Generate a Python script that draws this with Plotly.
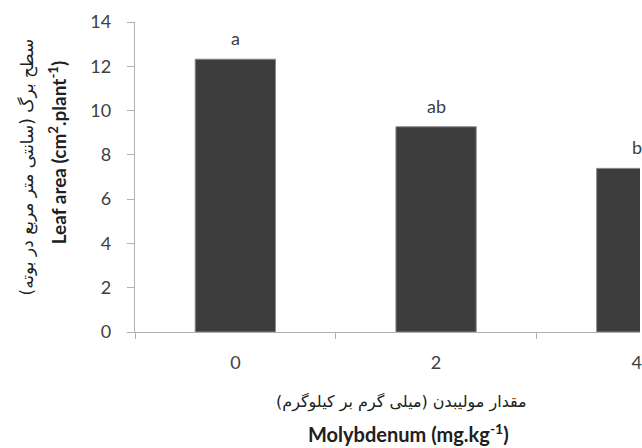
import plotly.graph_objects as go

categories = ["0", "2", "4"]
leaf_area = [12.32, 9.27, 7.39]
letters = ["a", "ab", "b"]
y_ticks = [0, 2, 4, 6, 8, 10, 12, 14]

W, H = 642, 448
L, T, PB = 135, 22, 332   # plot area left, top, bottom in page pixels
PW, PH = W - L, PB - T

fig = go.Figure()
fig.add_trace(go.Bar(
    x=categories, y=leaf_area, width=0.4,
    marker=dict(color="#3d3d3d", line=dict(color="#8a8a8a", width=1)),
    showlegend=False, hoverinfo="skip",
))

for i, (v, t) in enumerate(zip(leaf_area, letters)):
    fig.add_annotation(x=i, y=v, text=t, showarrow=False, yshift=21,
                       xanchor="center", yanchor="middle",
                       font=dict(family="Lato", size=18, color="#404040"))

def px(x):
    return (x - L) / PW

def py(y):
    return (PB - y) / PH

common = dict(xref="paper", yref="paper", showarrow=False, xanchor="center", yanchor="middle")
fig.add_annotation(x=px(403), y=py(402),
                   text="مقدار مولیبدن (میلی گرم بر کیلوگرم)",
                   font=dict(family="DejaVu Sans", size=16, color="#202020"), **common)
fig.add_annotation(x=px(410), y=py(433),
                   text="<b>Molybdenum (mg.kg<sup>-1</sup>)</b>",
                   font=dict(family="Lato", size=20, color="#202020"), **common)
fig.add_annotation(x=px(27), y=py(167), textangle=-90,
                   text="سطح برگ (سانتی متر مربع در بوته)",
                   font=dict(family="DejaVu Sans", size=17, color="#202020"), **common)
fig.add_annotation(x=px(57), y=py(152), textangle=-90,
                   text="<b>Leaf area (cm<sup>2</sup>.plant<sup>-1</sup>)</b>",
                   font=dict(family="Lato", size=19, color="#202020"), **common)

fig.update_layout(
    width=W, height=H,
    margin=dict(l=L, r=0, t=T, b=H - PB, pad=0),
    plot_bgcolor="white", paper_bgcolor="white",
    xaxis=dict(type="category", range=[-0.5, 2.016], tickson="boundaries",
               ticks="outside", ticklen=6, tickcolor="#b0b0b0",
               showline=True, linecolor="#b0b0b0", linewidth=1.3,
               showgrid=False, zeroline=False, ticklabelstandoff=14,
               tickfont=dict(family="Lato", size=18, color="#404040")),
    yaxis=dict(range=[0, 14], tickvals=y_ticks, ticks="outside", ticklen=7,
               tickcolor="#b0b0b0", showline=True, linecolor="#b0b0b0", linewidth=1.3,
               showgrid=False, zeroline=False, ticklabelstandoff=12,
               tickfont=dict(family="Lato", size=18, color="#404040")),
)

fig.write_html("out.html", config={"displayModeBar": False},
               post_script="document.body.style.margin='0';document.body.style.overflow='hidden';")
